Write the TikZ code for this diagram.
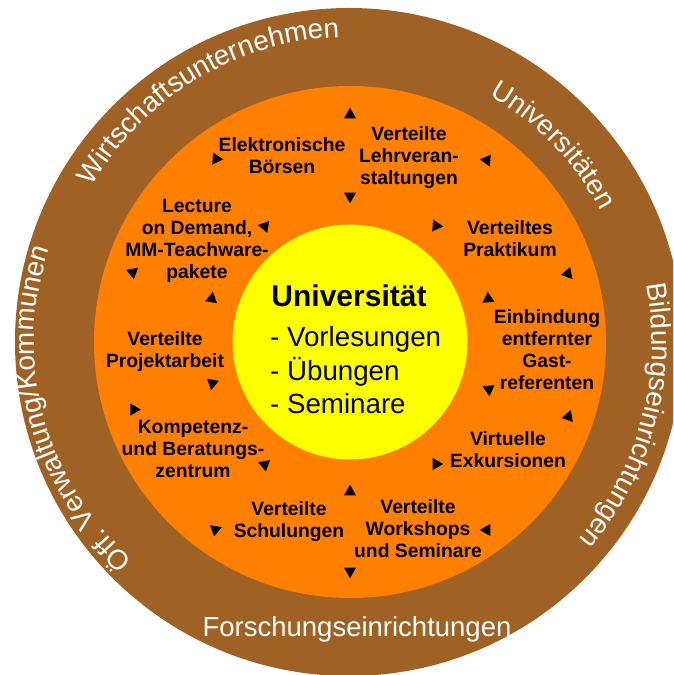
\documentclass[tikz,border=0pt]{standalone}
\usepackage{fontspec}
\setmainfont{Liberation Sans}
\usetikzlibrary{decorations.text}
\definecolor{ringbrown}{RGB}{160,98,36}
\definecolor{ringorange}{RGB}{255,128,0}
\definecolor{coreyellow}{RGB}{255,255,0}

\begin{document}
\begin{tikzpicture}[x=1pt,y=1pt,
  item/.style={font=\bfseries\fontsize{19.3}{22}\selectfont, align=center,
               anchor=north, inner sep=0pt},
  ringtext/.style={decorate, decoration={text along path,
               text={|\color{white}\fontsize{27.8}{30}\selectfont|#1}}},
  tri/.pic={\fill (5.3,0) -- (-5.3,6) -- (-5.3,-6) -- cycle;}
]
\useasboundingbox (0,0) rectangle (673,675);
\clip (0,0) rectangle (673,675);

% rings
\coordinate (C) at (350,333);
\fill[ringbrown] (349,333) circle (334);
\fill[ringorange] (C) circle (256);
\fill[coreyellow] (C) circle (117.5);

% partner institutions around the outer ring
\path[ringtext=Wirtschaftsunternehmen]
  (C) ++(149.3:300 and 305) arc[start angle=149.3, end angle=60, x radius=300, y radius=305];
\path[ringtext=Universitäten]
  (C) ++(60.5:283) arc[start angle=60.5, end angle=10, radius=283];
\path[ringtext=Bildungseinrichtungen]
  (C) ++(11:302) arc[start angle=11, end angle=-60, radius=302];
\path[ringtext=Öff. Verwaltung/Kommunen]
  (C) ++(226.6:316 and 300) arc[start angle=226.6, end angle=145, x radius=316, y radius=300];
\node[font=\fontsize{27.5}{30}\selectfont, text=white, anchor=base,
      inner sep=0pt] (forsch) at (357,38) {Forschungseinrichtungen};

% core
\node[font=\bfseries\fontsize{30}{34}\selectfont, anchor=base, inner sep=0pt]
  (uni) at (349,368) {Universität};
\node[font=\fontsize{27.7}{33}\selectfont, align=left, anchor=north west,
      inner sep=0pt] (lehre) at (270,352.1)
  {\strut - Vorlesungen\\- Übungen\\- Seminare};

% services
\node[item] (boersen)  at (282,539.4) {\strut Elektronische\\Börsen};
\node[item] (lehrv)    at (409,550.4) {\strut Verteilte\\Lehrveran-\\staltungen};
\node[item] (prakt)    at (510,456.4) {\strut Verteiltes\\Praktikum};
\node[item] (gast)     at (547,367.4) {\strut Einbindung\\entfernter\\Gast-\\referenten};
\node[item] (exkurs)   at (508,245.4) {\strut Virtuelle\\Exkursionen};
\node[item] (workshop) at (418,177.4) {\strut Verteilte\\Workshops\\und Seminare};
\node[item] (schul)    at (289,175.4) {\strut Verteilte\\Schulungen};
\node[item] (kompetenz) at (193,257.4) {\strut Kompetenz-\\und Beratungs-\\zentrum};
\node[item] (projekt)  at (165,345.4) {\strut Verteilte\\Projektarbeit};
\node[item] (lecture)  at (197,478.4) {\strut Lecture\\on Demand,\\MM-Teachware-\\pakete};

% arrow heads between the services
\foreach \n/\x/\y/\a in {
  1/350/113/90, 2/218/159/-5, 3/350/198/-90, 4/485/160/175,
  5/438/226/-5, 6/569/275/-50, 7/488/297/95, 8/263/226/170,
  9/133/274/-80, 10/212/297/80, 11/212/385/-100, 12/133/408/120,
  13/263/464/160, 14/217/529/20, 15/489/391/-85, 16/569/415/70,
  17/438/464/0, 18/350/490/90, 19/485/530/180, 20/350/573/-90}
  \pic (t\n) [rotate=\a] at (\x,{675-\y}) {tri};
\end{tikzpicture}
\end{document}
